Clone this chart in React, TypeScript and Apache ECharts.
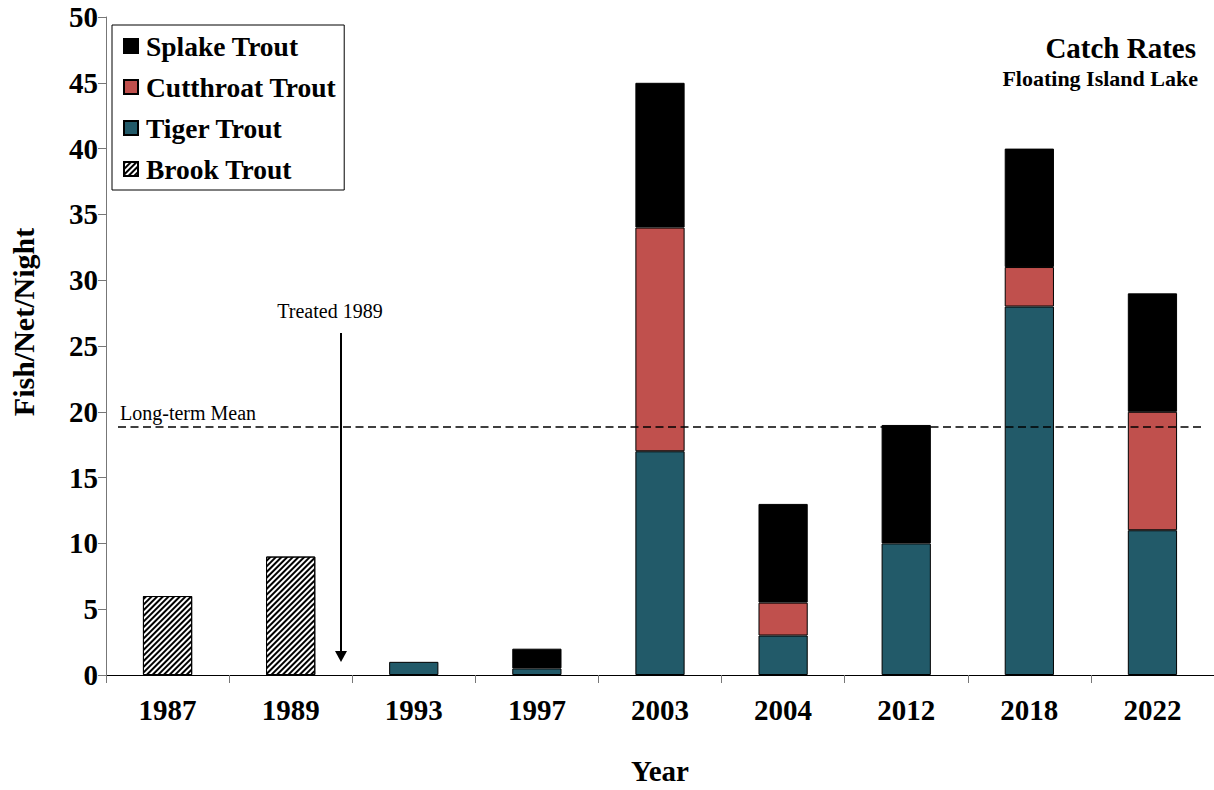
import React, { useEffect, useRef } from "react";
import * as echarts from "echarts";

const years = ["1987", "1989", "1993", "1997", "2003", "2004", "2012", "2018", "2022"];
const tiger = [null, null, 1, 0.5, 17, 3, 10, 28, 11];
const cutthroat = [null, null, null, null, 17, 2.5, null, 3, 9];
const splake = [null, null, null, 1.5, 11, 7.5, 9, 9, 9];
const brook = [6, 9, null, null, null, null, null, null, null];
const longTermMean = 18.9;
const yTicks = { min: 0, max: 50, interval: 5 };

const FONT = "'Liberation Serif', 'Times New Roman', serif";

export default function App() {
  const ref = useRef<HTMLDivElement>(null);
  useEffect(() => {
    document.body.style.margin = "0";
    const chart = echarts.init(ref.current!, null, { renderer: "svg" });
    const border = { borderColor: "#000", borderWidth: 1 };
    chart.setOption({
      animation: false,
      backgroundColor: "#fff",
      textStyle: { fontFamily: FONT },
      grid: { left: 105, right: 0, top: 17, bottom: 113 },
      title: [
        {
          text: "Catch Rates",
          right: 13,
          top: 28,
          textStyle: { fontFamily: FONT, fontWeight: "bold", fontSize: 29, color: "#000" },
        },
        {
          text: "Floating Island Lake",
          right: 11,
          top: 62,
          textStyle: { fontFamily: FONT, fontWeight: "bold", fontSize: 22, color: "#000" },
        },
      ],
      legend: {
        orient: "vertical",
        left: 112,
        top: 25,
        data: ["Splake Trout", "Cutthroat Trout", "Tiger Trout", "Brook Trout"],
        borderColor: "#000",
        borderWidth: 1,
        padding: [7, 8, 7, 11],
        itemWidth: 14,
        itemHeight: 14,
        itemGap: 13,
        icon: "rect",
        textStyle: {
          fontFamily: FONT,
          fontWeight: "bold",
          fontSize: 27.5,
          color: "#000",
          lineHeight: 28,
          padding: [0, 0, 0, 3],
        },
      },
      xAxis: {
        type: "category",
        data: years,
        name: "Year",
        nameLocation: "middle",
        nameGap: 81,
        nameTextStyle: { fontFamily: FONT, fontWeight: "bold", fontSize: 29, color: "#000" },
        axisLine: { lineStyle: { color: "#000", width: 1 } },
        axisTick: { show: true, alignWithLabel: false, length: 8, lineStyle: { color: "#777" } },
        axisLabel: { fontFamily: FONT, fontWeight: "bold", fontSize: 29, color: "#000", margin: 20 },
      },
      yAxis: {
        type: "value",
        min: yTicks.min,
        max: yTicks.max,
        interval: yTicks.interval,
        name: "Fish/Net/Night",
        nameLocation: "middle",
        nameGap: 68,
        nameTextStyle: {
          fontFamily: FONT,
          fontWeight: "bold",
          fontSize: 30,
          color: "#000",
          padding: [0, 0, 0, 48],
        },
        axisLine: { show: true, lineStyle: { color: "#777", width: 1 } },
        axisTick: { show: true, length: 8, lineStyle: { color: "#777" } },
        axisLabel: { fontFamily: FONT, fontWeight: "bold", fontSize: 29, color: "#000", margin: 8 },
        splitLine: { show: false },
      },
      series: [
        {
          name: "Tiger Trout",
          type: "bar",
          stack: "a",
          barWidth: "40%",
          data: tiger,
          itemStyle: { color: "#225A69", ...border },
          markLine: {
            silent: true,
            symbol: "none",
            data: [[{ x: 118, yAxis: longTermMean }, { x: 1202, yAxis: longTermMean }]],
            lineStyle: { color: "#000", type: [8, 4.5], width: 1.5 },
            label: {
              show: true,
              position: "insideStartTop",
              formatter: "Long-term Mean",
              fontFamily: FONT,
              fontSize: 20,
              color: "#000",
              distance: [2, 3],
            },
          },
        },
        {
          name: "Cutthroat Trout",
          type: "bar",
          stack: "a",
          barWidth: "40%",
          data: cutthroat,
          itemStyle: { color: "#C0504D", ...border },
        },
        {
          name: "Splake Trout",
          type: "bar",
          stack: "a",
          barWidth: "40%",
          data: splake,
          itemStyle: { color: "#000", ...border },
        },
        {
          name: "Brook Trout",
          type: "bar",
          stack: "a",
          barWidth: "40%",
          data: brook,
          itemStyle: {
            color: "#fff",
            ...border,
            decal: {
              symbol: "rect",
              symbolSize: 1,
              dashArrayX: [1, 0],
              dashArrayY: [2, 2],
              rotation: -Math.PI / 4,
              color: "#000",
              backgroundColor: "#fff",
            },
          },
        },
      ],
      graphic: [
        {
          type: "text",
          x: 330,
          y: 311,
          style: {
            text: "Treated 1989",
            fontFamily: FONT,
            fontSize: 20,
            fill: "#000",
            textAlign: "center",
            textVerticalAlign: "middle",
          },
        },
        {
          type: "line",
          shape: { x1: 341, y1: 333, x2: 341, y2: 652 },
          style: { stroke: "#000", lineWidth: 2 },
        },
        {
          type: "polygon",
          shape: { points: [[335, 651], [347, 651], [341, 662]] },
          style: { fill: "#000" },
        },
      ],
    });
    return () => chart.dispose();
  }, []);
  return <div ref={ref} style={{ width: 1214, height: 790 }} />;
}
